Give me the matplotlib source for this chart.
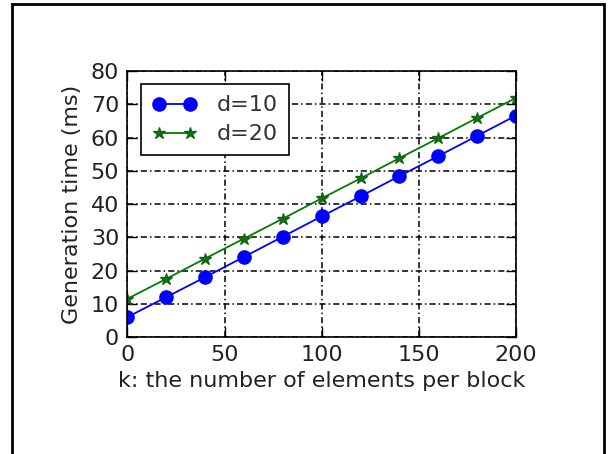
import matplotlib
matplotlib.use('Agg')
import matplotlib.pyplot as plt
from matplotlib.patches import Rectangle

k = [0, 20, 40, 60, 80, 100, 120, 140, 160, 180, 200]
d10 = [6.0, 12.0, 18.0, 24.1, 30.2, 36.3, 42.3, 48.4, 54.4, 60.5, 66.6]
d20 = [11.5, 17.5, 23.6, 29.6, 35.6, 41.7, 47.7, 53.8, 59.8, 65.9, 71.9]

xticks = [0, 50, 100, 150, 200]
yticks = [0, 10, 20, 30, 40, 50, 60, 70, 80]

fs = 16

fig = plt.figure(figsize=(6.08, 4.54), dpi=100)
ax = fig.add_axes([0.2097, 0.2577, 0.6390, 0.5859])

ax.plot(k, d10, '-o', color='blue', lw=1.3, markersize=9.5, label='d=10')
ax.plot(k, d20, '-*', color='green', lw=1.3, markersize=9, markeredgecolor='#1a5e1a', label='d=20')

ax.set_xlim(0, 200)
ax.set_ylim(0, 80)
ax.set_xticks(xticks)
ax.set_yticks(yticks)
ax.grid(True, color='black', linestyle=(0, (4, 2, 1, 2)), lw=1.1)
ax.tick_params(direction='in', top=True, right=True, length=7, width=1,
               labelsize=fs, pad=6, labelcolor='#222222')
for s in ax.spines.values():
    s.set_linewidth(1.2)

ax.set_xlabel('k: the number of elements per block', fontsize=fs, color='#222222', labelpad=4)
ax.set_ylabel('Generation time (ms)', fontsize=fs, color='#222222', labelpad=6)

leg = ax.legend(loc='upper left', numpoints=2, fontsize=fs, fancybox=False,
                framealpha=1, edgecolor='black', borderaxespad=0.6, handlelength=2.0,
                borderpad=0.5, labelspacing=0.4, handletextpad=0.9)
leg.get_frame().set_linewidth(1.2)
for t in leg.get_texts():
    t.set_color('#333333')

fig.patches.append(Rectangle((11.5 / 608, -0.1), 592 / 608, 1.1 - 4 / 454,
                             transform=fig.transFigure, fill=False, lw=2, ec='black'))

fig.savefig('out.png', dpi=100)
